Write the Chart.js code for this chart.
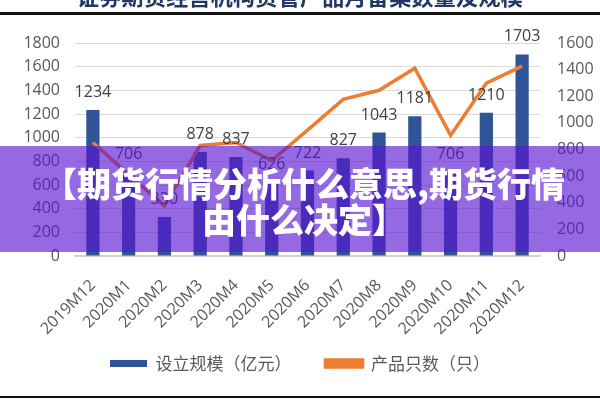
<!DOCTYPE html>
<html lang="zh">
<head>
<meta charset="UTF-8" />
<title>资管产品月备案数量及规模</title>
<script src="https://cdn.jsdelivr.net/npm/chart.js"></script>
<style>
  html, body { margin: 0; padding: 0; background: #fff; }
  #wrap { position: relative; width: 600px; height: 400px; overflow: hidden; }
  #grafico { position: absolute; left: 0; top: 0; }
  #titulo {
    position: absolute; left: 0; width: 600px; top: -16px;
    text-align: center; font-family: "Noto Sans CJK SC"; font-weight: 700;
    font-size: 22px; line-height: 22px; color: #1f3864; letter-spacing: 0.3px;
  }
  .raya { position: absolute; left: 0; width: 600px; background: #111; }
  #banner {
    position: absolute; left: 0; top: 146px; width: 600px; height: 106px;
    background: rgba(89, 20, 209, 0.64);
    color: #fff; font-family: "Noto Sans CJK SC"; font-weight: 900;
    font-size: 34px; line-height: 36px; text-align: center;
    display: flex; flex-direction: column; justify-content: center;
    padding-left: 8px; box-sizing: border-box; padding-top: 4px;
  }
</style>
</head>
<body>
<div id="wrap">
  <canvas id="grafico" width="600" height="400"></canvas>
  <div id="titulo">证券期货经营机构资管产品月备案数量及规模</div>
  <div class="raya" style="top:12px;height:3px"></div>
  <div class="raya" style="top:396px;height:2px"></div>
  <div id="banner"><div>【期货行情分析什么意思,期货行情</div><div>由什么决定】</div></div>
</div>
<script>
  const meses = ['2019M12', '2020M1', '2020M2', '2020M3', '2020M4', '2020M5', '2020M6',
    '2020M7', '2020M8', '2020M9', '2020M10', '2020M11', '2020M12'];
  const escala = [1234, 706, 330, 878, 837, 626, 722, 827, 1043, 1181, 706, 1210, 1703];
  const productos = [853, 611, 377, 830, 853, 717, 945, 1177, 1245, 1411, 906, 1298, 1426];
  const ticksIzq = [0, 200, 400, 600, 800, 1000, 1200, 1400, 1600, 1800];
  const ticksDer = [0, 200, 400, 600, 800, 1000, 1200, 1400, 1600];

  const gris = '#595959';
  const fuente = { family: '"Open Sans"', size: 16 };

  // numeros encima de las barras
  const etiquetas = {
    id: 'etiquetas',
    afterDatasetsDraw(chart) {
      const ctx = chart.ctx;
      const meta = chart.getDatasetMeta(1);
      ctx.save();
      ctx.font = '16px "Open Sans"';
      ctx.fillStyle = '#404040';
      ctx.textAlign = 'center';
      ctx.textBaseline = 'alphabetic';
      meta.data.forEach((bar, i) => {
        ctx.fillText(escala[i], bar.x, bar.y - 13);
      });
      ctx.restore();
    }
  };

  const ctx = document.getElementById('grafico').getContext('2d');
  const grafico = new Chart(ctx, {
    data: {
      labels: meses,
      datasets: [{
        type: 'line',
        label: '产品只数（只）',
        data: productos,
        yAxisID: 'y1',
        borderColor: '#ED7D31',
        backgroundColor: '#ED7D31',
        borderWidth: 3.5,
        pointRadius: 0,
        tension: 0,
        order: 0
      }, {
        type: 'bar',
        label: '设立规模（亿元）',
        data: escala,
        yAxisID: 'y',
        backgroundColor: '#2F5597',
        categoryPercentage: 1,
        barPercentage: 0.37,
        order: 1
      }]
    },
    options: {
      responsive: false,
      animation: false,
      layout: { padding: { top: 43, left: 0, right: 0, bottom: 18 } },
      plugins: {
        tooltip: { enabled: false },
        legend: {
          position: 'bottom',
          reverse: true,
          labels: {
            boxWidth: 37,
            boxHeight: 7,
            padding: 17,
            color: gris,
            font: { family: '"Noto Sans CJK SC"', size: 17 },
            generateLabels(chart) {
              const items = Chart.defaults.plugins.legend.labels.generateLabels(chart);
              // hueco extra entre las dos entradas
              items.forEach(it => { if (it.datasetIndex === 1) it.text += '\u3000\u2002'; });
              return items;
            }
          }
        }
      },
      scales: {
        x: {
          grid: { display: false },
          border: { display: true, color: '#d0d0d0', width: 1.5 },
          ticks: { color: gris, font: fuente, maxRotation: 45, minRotation: 45, padding: 12, autoSkip: false },
          afterFit(s) { s.height = 82; }
        },
        y: {
          position: 'left',
          min: 0, max: 1800,
          afterBuildTicks(s) { s.ticks = ticksIzq.map(v => ({ value: v })); },
          grid: { color: '#d9d9d9', drawTicks: false },
          border: { display: false },
          ticks: { color: gris, font: fuente, padding: 15, autoSkip: false, callback: v => String(v) },
          afterFit(s) { s.width = 75; }
        },
        y1: {
          position: 'right',
          min: 0, max: 1600,
          afterBuildTicks(s) { s.ticks = ticksDer.map(v => ({ value: v })); },
          grid: { display: false, drawTicks: false },
          border: { display: false },
          ticks: { color: gris, font: fuente, padding: 17, autoSkip: false, callback: v => String(v) },
          afterFit(s) { s.width = 60; }
        }
      }
    },
    plugins: [etiquetas]
  });
</script>
</body>
</html>
